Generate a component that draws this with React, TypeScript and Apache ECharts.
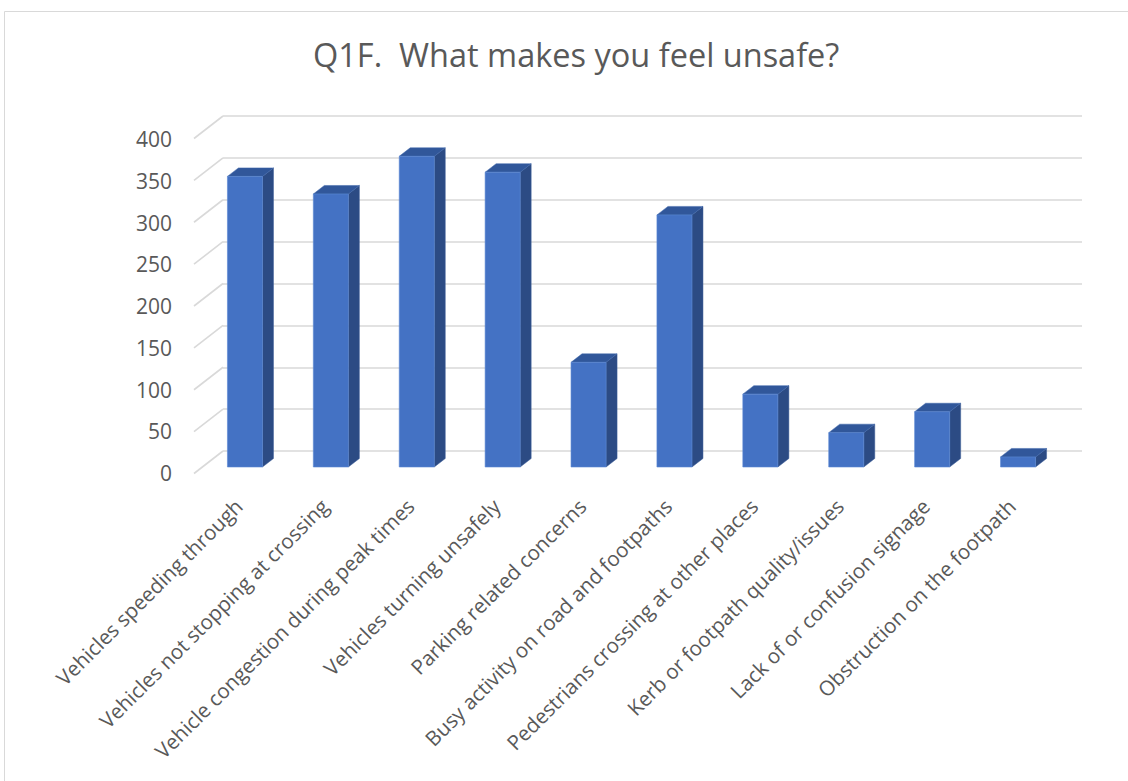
import React, { useEffect, useRef } from "react";
import * as echarts from "echarts";

const TITLE = "Q1F.  What makes you feel unsafe?";
const categories = [
  "Vehicles speeding through",
  "Vehicles not stopping at crossing",
  "Vehicle congestion during peak times",
  "Vehicles turning unsafely",
  "Parking related concerns",
  "Busy activity on road and footpaths",
  "Pedestrians crossing at other places",
  "Kerb or footpath quality/issues",
  "Lack of or confusion signage",
  "Obstruction on the footpath",
];
const values = [347, 326, 371, 352, 125, 301, 87, 41, 66, 12];
const yTicks = [0, 50, 100, 150, 200, 250, 300, 350, 400];

const FONT = "'Open Sans', 'Liberation Sans', sans-serif";
const TEXT = "#595959";
const GRID = "#d9d9d9";

export default function App() {
  const ref = useRef<HTMLDivElement>(null);
  useEffect(() => {
    if (!ref.current) return;
    const chart = echarts.init(ref.current, null, { renderer: "svg" });
    const W = 859;
    const option: any = {
      animation: false,
      backgroundColor: "#ffffff",
      textStyle: { fontFamily: FONT },
      title: {
        text: TITLE,
        left: 308,
        top: 33,
        textStyle: { fontFamily: FONT, fontSize: 32.5, fontWeight: "normal", color: TEXT },
      },
      graphic: [
        {
          type: "rect",
          shape: { x: 4.5, y: 11.5, width: 1200, height: 900 },
          style: { fill: "none", stroke: GRID, lineWidth: 1 },
          z: -10,
        },
      ],
      grid: [
        { left: 223, top: 116, width: W, height: 335 }, // back wall
        { left: 193, top: 139, width: W, height: 334 }, // front edge
        { left: 202, top: 132, width: W, height: 335 }, // bar plane
      ],
      xAxis: [
        { type: "category", data: categories, gridIndex: 0, show: false },
        { type: "category", data: categories, gridIndex: 1, show: false },
        {
          type: "category",
          data: categories,
          gridIndex: 2,
          axisLine: { show: false },
          axisTick: { show: false },
          axisLabel: {
            interval: 0,
            rotate: 45,
            margin: 29,
            padding: [0, 9, 0, 0],
            fontSize: 20.6,
            color: TEXT,
            fontFamily: FONT,
          },
        },
      ],
      yAxis: [
        {
          type: "value",
          gridIndex: 0,
          min: 0,
          max: 400,
          interval: 50,
          axisLabel: { show: false },
          axisLine: { show: false },
          axisTick: { show: false },
          splitLine: { lineStyle: { color: GRID, width: 1.6 } },
        },
        {
          type: "value",
          gridIndex: 1,
          min: 0,
          max: 400,
          interval: 50,
          axisLine: { show: false },
          axisTick: { show: false },
          splitLine: { show: false },
          axisLabel: { margin: 21, fontSize: 21, color: TEXT, fontFamily: FONT },
        },
        {
          type: "value",
          gridIndex: 2,
          min: 0,
          max: 400,
          interval: 50,
          show: false,
          splitLine: { show: false },
        },
      ],
      series: [
        {
          type: "custom",
          xAxisIndex: 0,
          yAxisIndex: 0,
          data: yTicks.map((v) => [0, v]),
          encode: { x: 0, y: 1 },
          silent: true,
          z: 1,
          renderItem: (params: any, api: any) => {
            const p = api.coord([0, api.value(1)]);
            const x = params.coordSys.x;
            return {
              type: "line",
              shape: { x1: x, y1: p[1], x2: x - 29, y2: p[1] + 22.5 },
              style: { stroke: GRID, lineWidth: 1.6 },
            };
          },
        },
        {
          type: "custom",
          xAxisIndex: 2,
          yAxisIndex: 2,
          data: values.map((v, i) => [i, v]),
          encode: { x: 0, y: 1 },
          z: 5,
          renderItem: (params: any, api: any) => {
            const idx = api.value(0);
            const v = api.value(1);
            const top = api.coord([idx, v]);
            const base = api.coord([idx, 0]);
            const bw = api.size([1, 0])[0] * 0.408;
            const x0 = top[0] - bw / 2;
            const x1 = top[0] + bw / 2;
            const yt = top[1];
            const yb = base[1];
            const dx = 11;
            const dy = -8.5;
            return {
              type: "group",
              children: [
                {
                  type: "polygon",
                  shape: { points: [[x1, yt], [x1 + dx, yt + dy], [x1 + dx, yb + dy], [x1, yb]] },
                  style: { fill: "#2C4B84", stroke: "#3a5c98", lineWidth: 0.5 },
                },
                {
                  type: "polygon",
                  shape: { points: [[x0, yt], [x0 + dx, yt + dy], [x1 + dx, yt + dy], [x1, yt]] },
                  style: { fill: "#31579A", stroke: "#3f66ab", lineWidth: 0.5 },
                },
                {
                  type: "rect",
                  shape: { x: x0, y: yt, width: bw, height: yb - yt },
                  style: { fill: "#4472C4", stroke: "#5b88d4", lineWidth: 0.6 },
                },
              ],
            };
          },
        },
      ],
    };
    chart.setOption(option);
    return () => chart.dispose();
  }, []);
  return (
    <div
      ref={ref}
      style={{ position: "fixed", left: 0, top: 0, width: 1128, height: 781 }}
    />
  );
}
